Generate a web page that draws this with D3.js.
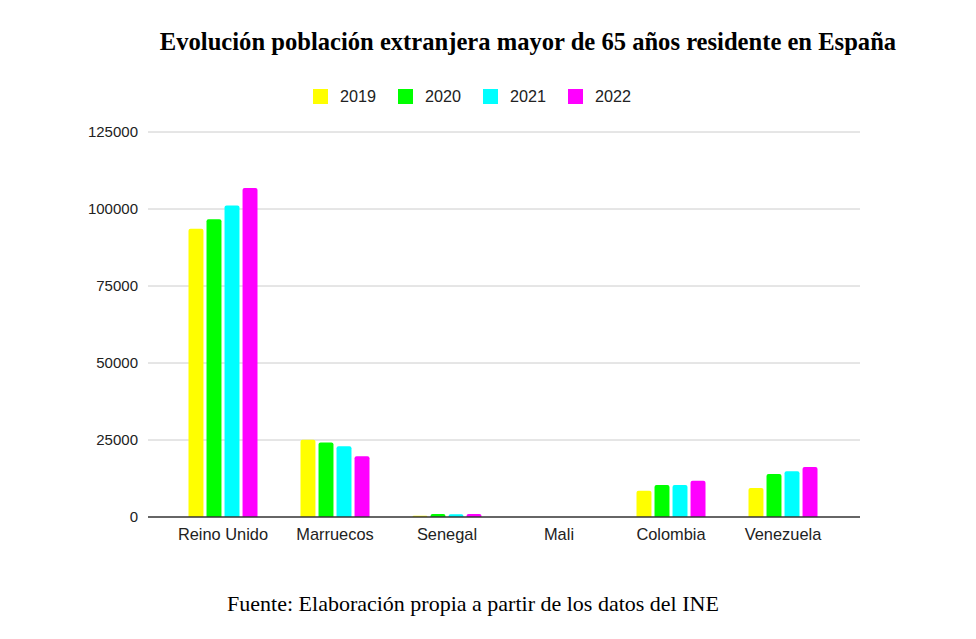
<!DOCTYPE html>
<html>
<head>
<meta charset="utf-8">
<script src="https://cdn.jsdelivr.net/npm/d3@7"></script>
<style>
  body { margin: 0; background: #fff; }
  svg { display: block; }
</style>
</head>
<body>
<div id="chart"></div>
<script>
const countries = ["Reino Unido", "Marruecos", "Senegal", "Mali", "Colombia", "Venezuela"];
const years = ["2019", "2020", "2021", "2022"];
const colors = ["#ffff00", "#00ff00", "#00ffff", "#ff00ff"];
const v2019 = [93600, 25100, 400, 0, 8550, 9400];
const v2020 = [96700, 24150, 1000, 0, 10400, 13950];
const v2021 = [101100, 22950, 900, 0, 10350, 14850];
const v2022 = [106800, 19700, 1000, 0, 11800, 16250];
const yTicks = [0, 25000, 50000, 75000, 100000, 125000];

const series = [v2019, v2020, v2021, v2022];

const width = 976;
const height = 639;
const plot = {left: 148, right: 860, top: 132, bottom: 517};

const svg = d3.select("#chart")
    .append("svg")
    .attr("width", width)
    .attr("height", height);

// title
svg.append("text")
    .attr("x", 528)
    .attr("y", 50)
    .attr("text-anchor", "middle")
    .attr("font-family", "'Liberation Serif', 'Times New Roman', serif")
    .attr("font-weight", "bold")
    .attr("font-size", 24.6)
    .attr("fill", "#000")
    .text("Evolución población extranjera mayor de 65 años residente en España");

const xScale = d3.scaleBand()
    .domain(countries)
    .range([167, 839])
    .paddingInner(0)
    .paddingOuter(0);

const xInner = d3.scaleBand()
    .domain(years)
    .range([-34.5, 34.5])
    .paddingInner(0.17);

const yScale = d3.scaleLinear()
    .domain([0, 125000])
    .range([plot.bottom, plot.top]);

// gridlines
svg.append("g")
    .selectAll("line")
    .data(yTicks.filter(d => d > 0))
    .enter()
    .append("line")
    .attr("x1", plot.left)
    .attr("x2", plot.right)
    .attr("y1", d => yScale(d))
    .attr("y2", d => yScale(d))
    .attr("stroke", "#cccccc")
    .attr("stroke-width", 1);

// y axis labels
const yAxis = svg.append("g")
    .attr("transform", `translate(${plot.left - 10},0)`)
    .call(d3.axisLeft(yScale).tickValues(yTicks).tickSize(0).tickPadding(0).tickFormat(d3.format("d")));
yAxis.select(".domain").remove();
yAxis.selectAll("text")
    .attr("font-family", "'Liberation Sans', Arial, sans-serif")
    .attr("font-size", 15)
    .attr("fill", "#222");

// bars
const groups = svg.append("g")
    .selectAll("g")
    .data(countries)
    .enter()
    .append("g")
    .attr("transform", d => `translate(${xScale(d) + xScale.bandwidth() / 2},0)`);

groups.selectAll("path")
    .data((c, i) => years.map((y, j) => ({year: y, value: series[j][i], color: colors[j]})))
    .enter()
    .append("path")
    .attr("fill", d => d.color)
    .attr("d", d => {
        const x0 = xInner(d.year);
        const w = xInner.bandwidth();
        const y0 = yScale(d.value);
        const h = plot.bottom - y0;
        if (h <= 0) return "";
        const r = Math.min(2, h, w / 2);
        return `M${x0},${plot.bottom}V${y0 + r}Q${x0},${y0} ${x0 + r},${y0}H${x0 + w - r}Q${x0 + w},${y0} ${x0 + w},${y0 + r}V${plot.bottom}Z`;
    });

// baseline
svg.append("line")
    .attr("x1", plot.left)
    .attr("x2", plot.right)
    .attr("y1", plot.bottom)
    .attr("y2", plot.bottom)
    .attr("stroke", "#333")
    .attr("stroke-width", 1.5);

// x axis labels
const xAxis = svg.append("g")
    .attr("transform", `translate(0,${plot.bottom})`)
    .call(d3.axisBottom(xScale).tickSize(0).tickPadding(11));
xAxis.select(".domain").remove();
xAxis.selectAll("text")
    .attr("font-family", "'Liberation Sans', Arial, sans-serif")
    .attr("font-size", 16.4)
    .attr("fill", "#222");

// legend
const legend = svg.append("g")
    .attr("transform", "translate(313,89)");
const items = legend.selectAll("g")
    .data(years)
    .enter()
    .append("g")
    .attr("transform", (d, i) => `translate(${i * 85},0)`);
items.append("rect")
    .attr("width", 15)
    .attr("height", 15)
    .attr("fill", (d, i) => colors[i]);
items.append("text")
    .attr("x", 27)
    .attr("y", 13)
    .attr("font-family", "'Liberation Sans', Arial, sans-serif")
    .attr("font-size", 16.2)
    .attr("fill", "#222")
    .text(d => d);

// source note
svg.append("text")
    .attr("x", 473)
    .attr("y", 611)
    .attr("text-anchor", "middle")
    .attr("font-family", "'Liberation Serif', 'Times New Roman', serif")
    .attr("font-size", 22)
    .attr("fill", "#000")
    .text("Fuente: Elaboración propia a partir de los datos del INE");
</script>
</body>
</html>
